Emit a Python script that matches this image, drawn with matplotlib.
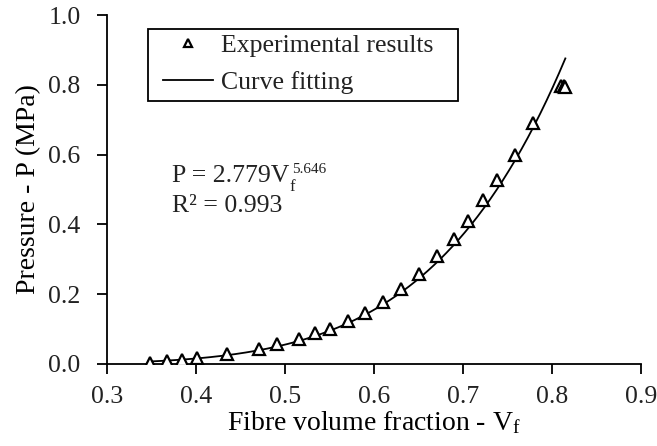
import numpy as np
import matplotlib
matplotlib.use("Agg")
import matplotlib.pyplot as plt
from matplotlib.patches import Rectangle

plt.rcParams['font.family'] = ['Liberation Serif', 'DejaVu Serif']
plt.rcParams['mathtext.fontset'] = 'custom'
plt.rcParams['mathtext.rm'] = 'Liberation Serif'
plt.rcParams['mathtext.it'] = 'Liberation Serif:italic'

# experimental points
vf = [0.348, 0.367, 0.384, 0.401, 0.435, 0.471, 0.491, 0.516, 0.534, 0.550,
      0.571, 0.590, 0.610, 0.630, 0.650, 0.671, 0.690, 0.706, 0.723, 0.738,
      0.758, 0.779, 0.810, 0.813, 0.815]
pressure = [0.004, 0.008, 0.012, 0.017, 0.028, 0.044, 0.056, 0.073, 0.088, 0.101,
            0.122, 0.147, 0.178, 0.214, 0.259, 0.309, 0.359, 0.411, 0.469, 0.526,
            0.600, 0.690, 0.797, 0.797, 0.795]

# power law fit given on the chart
fit_a = 2.779
fit_b = 5.646
fit_r2 = 0.993
fit_range = (0.348, 0.815)

W, H = 657, 446
fig = plt.figure(figsize=(W / 100, H / 100), dpi=100)
ax = fig.add_axes([107 / W, 1 - 364 / H, 534 / W, 349 / H])

xs = np.linspace(fit_range[0], fit_range[1], 200)
ax.plot(vf, pressure, linestyle='none', marker='^', ms=8, mfc='white',
        mec='black', mew=1.6, label='Experimental results', zorder=3)
ax.plot(xs, fit_a * xs ** fit_b, color='black', lw=1.3,
        label='Curve fitting', zorder=2)

ax.set_xlim(0.3, 0.9)
ax.set_ylim(0.0, 1.0)
ax.set_xticks(np.arange(0.3, 0.91, 0.1))
ax.set_yticks(np.arange(0.0, 1.01, 0.2))
ax.xaxis.set_major_formatter(matplotlib.ticker.FormatStrFormatter('%.1f'))
ax.yaxis.set_major_formatter(matplotlib.ticker.FormatStrFormatter('%.1f'))
ax.tick_params(direction='out', length=7, width=1.3, labelsize=18.5,
               colors='black', labelcolor='#222222')
ax.tick_params(axis='x', pad=9)
ax.tick_params(axis='y', pad=12)
ax.spines['top'].set_visible(False)
ax.spines['right'].set_visible(False)
for s in ('left', 'bottom'):
    ax.spines[s].set_linewidth(1.3)

ax.set_xlabel(r'Fibre volume fraction - V$_\mathregular{f}$', fontsize=20, labelpad=1)
ax.set_ylabel('Pressure - P (MPa)', fontsize=20, labelpad=5)

# fit equation: main text plus small sub/superscripts hung off its end
eq = ax.text(172 / W, 1 - 182 / H, 'P = %.3fV' % fit_a, transform=fig.transFigure,
             fontsize=18.5, color='#222222')
ax.annotate('f', xy=(1, 0), xycoords=eq, xytext=(0, -3), textcoords='offset points',
            fontsize=12, color='#222222', va='baseline', ha='left')
ax.annotate('%.3f' % fit_b, xy=(1, 0), xycoords=eq, xytext=(2, 10),
            textcoords='offset points', fontsize=11, color='#222222',
            va='baseline', ha='left')
ax.text(172 / W, 1 - 212 / H, 'R\u00b2 = %.3f' % fit_r2,
        transform=fig.transFigure, fontsize=18.5, color='#222222')

# legend, framed by hand so the padding matches
leg = ax.legend(loc='upper left', bbox_to_anchor=(163 / W, 1 - 34 / H),
                bbox_transform=fig.transFigure, fontsize=18.5, frameon=False,
                handlelength=1.95, handletextpad=0.3, borderpad=0.0,
                borderaxespad=0.0, labelspacing=0.55, markerscale=0.75)
for t in leg.get_texts():
    t.set_color('#222222')
fig.patches.append(Rectangle((148 / W, 1 - 101 / H), 310 / W, 72 / H,
                             transform=fig.transFigure, fill=False,
                             edgecolor='black', lw=1.3))

fig.savefig('out.png', dpi=100)
